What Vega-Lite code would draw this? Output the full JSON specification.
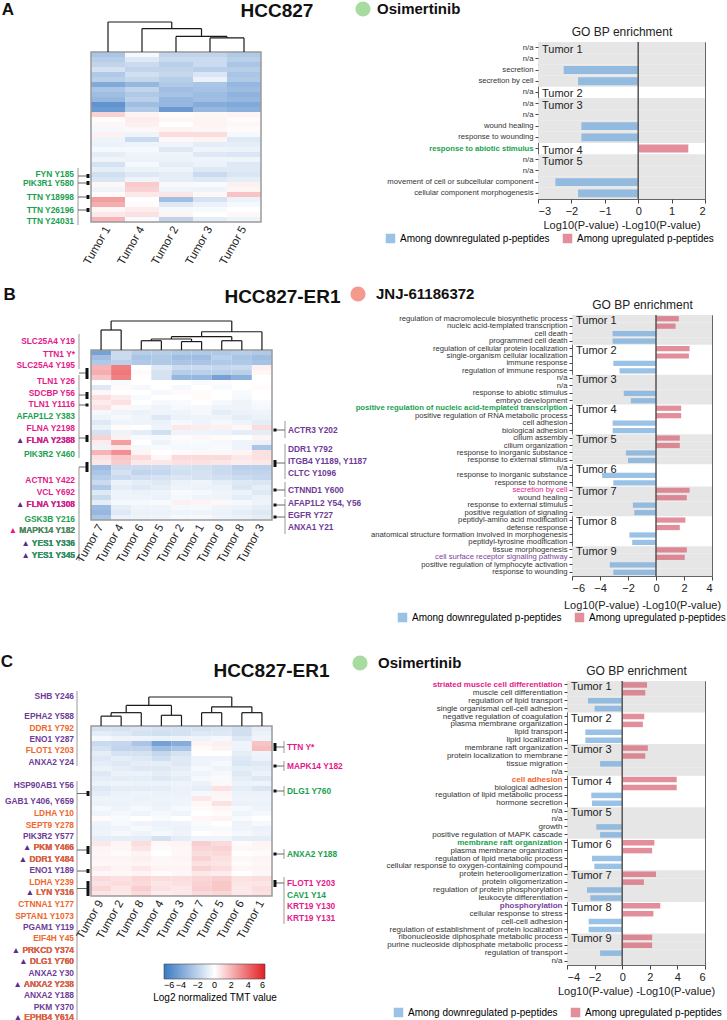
{
"$schema": "https://vega.github.io/schema/vega-lite/v6.json",
"padding": {"left": 0, "top": 0, "right": 0, "bottom": 0},
"background": "white",
"config": {
  "view": {"stroke": null},
  "font": "Liberation Sans",
  "axis": {"labelFont": "Liberation Sans", "titleFont": "Liberation Sans", "labelColor": "#222", "titleColor": "#222"},
  "legend": {"labelFont": "Liberation Sans", "titleFont": "Liberation Sans"},
  "title": {"font": "Liberation Sans", "color": "#111"}
},
"datasets": {
  "hmA": [
    {"r":0,"Tumor 1":-2.6,"Tumor 4":-0.3,"Tumor 2":-1.9,"Tumor 3":-1.9,"Tumor 5":-2.4},
    {"r":1,"Tumor 1":-2.2,"Tumor 4":-1.0,"Tumor 2":-1.6,"Tumor 3":-1.6,"Tumor 5":-2.1},
    {"r":2,"Tumor 1":-1.9,"Tumor 4":-1.6,"Tumor 2":-2.1,"Tumor 3":-1.6,"Tumor 5":-2.6},
    {"r":3,"Tumor 1":-1.3,"Tumor 4":-1.9,"Tumor 2":-1.9,"Tumor 3":-2.1,"Tumor 5":-2.2},
    {"r":4,"Tumor 1":-2.4,"Tumor 4":-1.4,"Tumor 2":-1.8,"Tumor 3":-1.1,"Tumor 5":-2.6},
    {"r":5,"Tumor 1":-2.1,"Tumor 4":-1.8,"Tumor 2":-2.2,"Tumor 3":-0.6,"Tumor 5":-2.4},
    {"r":6,"Tumor 1":-3.8,"Tumor 4":-3.2,"Tumor 2":-2.4,"Tumor 3":-2.6,"Tumor 5":-3.2},
    {"r":7,"Tumor 1":-2.6,"Tumor 4":-1.9,"Tumor 2":-2.9,"Tumor 3":-2.7,"Tumor 5":-3.0},
    {"r":8,"Tumor 1":-2.9,"Tumor 4":-2.4,"Tumor 2":-2.7,"Tumor 3":-3.0,"Tumor 5":-3.4},
    {"r":9,"Tumor 1":-3.2,"Tumor 4":-2.1,"Tumor 2":-3.2,"Tumor 3":-2.9,"Tumor 5":-3.2},
    {"r":10,"Tumor 1":-4.8,"Tumor 4":-2.9,"Tumor 2":-3.2,"Tumor 3":-3.7,"Tumor 5":-3.8},
    {"r":11,"Tumor 1":-4.5,"Tumor 4":-2.4,"Tumor 2":-4.5,"Tumor 3":-3.2,"Tumor 5":-3.5},
    {"r":12,"Tumor 1":1.2,"Tumor 4":0.3,"Tumor 2":0.1,"Tumor 3":0.2,"Tumor 5":0.3},
    {"r":13,"Tumor 1":0.1,"Tumor 4":0.5,"Tumor 2":0.2,"Tumor 3":0.3,"Tumor 5":0.1},
    {"r":14,"Tumor 1":0.2,"Tumor 4":0.4,"Tumor 2":0.0,"Tumor 3":0.3,"Tumor 5":0.2},
    {"r":15,"Tumor 1":-0.3,"Tumor 4":0.2,"Tumor 2":0.3,"Tumor 3":0.2,"Tumor 5":0.1},
    {"r":16,"Tumor 1":0.4,"Tumor 4":-0.5,"Tumor 2":0.9,"Tumor 3":0.9,"Tumor 5":-0.3},
    {"r":17,"Tumor 1":-0.5,"Tumor 4":-1.6,"Tumor 2":0.2,"Tumor 3":0.3,"Tumor 5":-1.0},
    {"r":18,"Tumor 1":-0.6,"Tumor 4":-0.5,"Tumor 2":-0.5,"Tumor 3":-0.8,"Tumor 5":-0.8},
    {"r":19,"Tumor 1":-0.3,"Tumor 4":-0.3,"Tumor 2":-1.0,"Tumor 3":-0.5,"Tumor 5":-0.6},
    {"r":20,"Tumor 1":-0.8,"Tumor 4":-0.5,"Tumor 2":-0.5,"Tumor 3":-1.0,"Tumor 5":-1.1},
    {"r":21,"Tumor 1":-0.5,"Tumor 4":-0.6,"Tumor 2":-0.6,"Tumor 3":-0.5,"Tumor 5":-0.5},
    {"r":22,"Tumor 1":-1.3,"Tumor 4":-0.3,"Tumor 2":-0.8,"Tumor 3":-0.6,"Tumor 5":-1.0},
    {"r":23,"Tumor 1":-0.8,"Tumor 4":-0.6,"Tumor 2":-0.5,"Tumor 3":-1.0,"Tumor 5":-1.0},
    {"r":24,"Tumor 1":-1.4,"Tumor 4":-1.0,"Tumor 2":-0.8,"Tumor 3":-1.6,"Tumor 5":-1.1},
    {"r":25,"Tumor 1":-1.1,"Tumor 4":-0.5,"Tumor 2":-0.8,"Tumor 3":-1.0,"Tumor 5":-0.8},
    {"r":26,"Tumor 1":0.2,"Tumor 4":1.4,"Tumor 2":-0.3,"Tumor 3":-0.2,"Tumor 5":0.4},
    {"r":27,"Tumor 1":-0.5,"Tumor 4":1.2,"Tumor 2":-0.5,"Tumor 3":-0.5,"Tumor 5":0.3},
    {"r":28,"Tumor 1":0.1,"Tumor 4":0.6,"Tumor 2":0.7,"Tumor 3":0.2,"Tumor 5":1.6},
    {"r":29,"Tumor 1":2.6,"Tumor 4":0.0,"Tumor 2":-2.9,"Tumor 3":-1.3,"Tumor 5":-0.6},
    {"r":30,"Tumor 1":2.2,"Tumor 4":0.1,"Tumor 2":-1.0,"Tumor 3":-0.6,"Tumor 5":-0.3},
    {"r":31,"Tumor 1":0.2,"Tumor 4":0.5,"Tumor 2":-0.3,"Tumor 3":-0.2,"Tumor 5":0.0},
    {"r":32,"Tumor 1":0.6,"Tumor 4":0.8,"Tumor 2":0.3,"Tumor 3":0.0,"Tumor 5":0.2},
    {"r":33,"Tumor 1":2.0,"Tumor 4":-0.2,"Tumor 2":-1.9,"Tumor 3":-0.8,"Tumor 5":-0.5}
  ],
  "hmB": [
    {"r":0,"Tumor 7":-4.2,"Tumor 4":-1.6,"Tumor 6":-2.2,"Tumor 5":-2.2,"Tumor 2":-2.4,"Tumor 1":-2.4,"Tumor 9":-2.4,"Tumor 8":-2.2,"Tumor 3":-2.4},
    {"r":1,"Tumor 7":-2.9,"Tumor 4":-1.6,"Tumor 6":-2.6,"Tumor 5":-2.4,"Tumor 2":-2.9,"Tumor 1":-2.9,"Tumor 9":-2.1,"Tumor 8":-2.6,"Tumor 3":-2.9},
    {"r":2,"Tumor 7":-2.4,"Tumor 4":-2.1,"Tumor 6":-2.4,"Tumor 5":-2.4,"Tumor 2":-2.6,"Tumor 1":-2.6,"Tumor 9":-2.4,"Tumor 8":-2.4,"Tumor 3":-2.7},
    {"r":3,"Tumor 7":2.0,"Tumor 4":3.5,"Tumor 6":0.0,"Tumor 5":-1.0,"Tumor 2":-1.6,"Tumor 1":-1.6,"Tumor 9":-1.8,"Tumor 8":-1.6,"Tumor 3":0.4},
    {"r":4,"Tumor 7":2.2,"Tumor 4":3.6,"Tumor 6":0.1,"Tumor 5":-1.3,"Tumor 2":-2.2,"Tumor 1":-2.1,"Tumor 9":-2.1,"Tumor 8":-2.1,"Tumor 3":0.2},
    {"r":5,"Tumor 7":1.6,"Tumor 4":3.4,"Tumor 6":0.0,"Tumor 5":-1.3,"Tumor 2":-3.2,"Tumor 1":-3.2,"Tumor 9":-4.2,"Tumor 8":-3.5,"Tumor 3":0.0},
    {"r":6,"Tumor 7":0.0,"Tumor 4":-0.2,"Tumor 6":0.0,"Tumor 5":0.0,"Tumor 2":0.0,"Tumor 1":-0.2,"Tumor 9":0.1,"Tumor 8":0.0,"Tumor 3":0.0},
    {"r":7,"Tumor 7":-1.0,"Tumor 4":0.1,"Tumor 6":-0.3,"Tumor 5":0.0,"Tumor 2":-0.3,"Tumor 1":0.0,"Tumor 9":-0.2,"Tumor 8":0.0,"Tumor 3":0.1},
    {"r":8,"Tumor 7":0.2,"Tumor 4":0.0,"Tumor 6":0.0,"Tumor 5":-0.3,"Tumor 2":0.1,"Tumor 1":0.1,"Tumor 9":0.0,"Tumor 8":-0.2,"Tumor 3":0.0},
    {"r":9,"Tumor 7":0.9,"Tumor 4":0.5,"Tumor 6":-0.2,"Tumor 5":0.0,"Tumor 2":0.0,"Tumor 1":0.1,"Tumor 9":0.0,"Tumor 8":-0.3,"Tumor 3":0.0},
    {"r":10,"Tumor 7":0.5,"Tumor 4":0.8,"Tumor 6":0.0,"Tumor 5":-0.3,"Tumor 2":-0.2,"Tumor 1":0.0,"Tumor 9":-0.3,"Tumor 8":-0.5,"Tumor 3":-0.2},
    {"r":11,"Tumor 7":0.8,"Tumor 4":0.2,"Tumor 6":-0.3,"Tumor 5":-0.5,"Tumor 2":-0.3,"Tumor 1":-0.3,"Tumor 9":-0.5,"Tumor 8":-0.5,"Tumor 3":-0.3},
    {"r":12,"Tumor 7":-0.3,"Tumor 4":-0.5,"Tumor 6":-0.6,"Tumor 5":-0.5,"Tumor 2":-0.5,"Tumor 1":-0.3,"Tumor 9":-0.8,"Tumor 8":-0.6,"Tumor 3":-0.5},
    {"r":13,"Tumor 7":-0.5,"Tumor 4":-0.3,"Tumor 6":-0.5,"Tumor 5":-1.0,"Tumor 2":-0.6,"Tumor 1":-0.5,"Tumor 9":-0.5,"Tumor 8":-0.8,"Tumor 3":-0.6},
    {"r":14,"Tumor 7":-1.0,"Tumor 4":-0.5,"Tumor 6":-0.5,"Tumor 5":-0.6,"Tumor 2":-0.3,"Tumor 1":-0.5,"Tumor 9":-0.3,"Tumor 8":-0.5,"Tumor 3":-0.8},
    {"r":15,"Tumor 7":-0.6,"Tumor 4":0.1,"Tumor 6":0.0,"Tumor 5":-0.5,"Tumor 2":0.6,"Tumor 1":0.5,"Tumor 9":0.4,"Tumor 8":0.2,"Tumor 3":0.9},
    {"r":16,"Tumor 7":-1.3,"Tumor 4":-0.5,"Tumor 6":-0.8,"Tumor 5":-1.4,"Tumor 2":-0.5,"Tumor 1":-0.5,"Tumor 9":-0.6,"Tumor 8":-0.8,"Tumor 3":-0.8},
    {"r":17,"Tumor 7":1.2,"Tumor 4":0.4,"Tumor 6":-0.2,"Tumor 5":-0.3,"Tumor 2":0.1,"Tumor 1":0.2,"Tumor 9":0.1,"Tumor 8":0.0,"Tumor 3":0.3},
    {"r":18,"Tumor 7":0.5,"Tumor 4":2.6,"Tumor 6":0.0,"Tumor 5":-0.5,"Tumor 2":-0.2,"Tumor 1":-0.2,"Tumor 9":-0.3,"Tumor 8":-0.5,"Tumor 3":-0.6},
    {"r":19,"Tumor 7":-0.5,"Tumor 4":0.6,"Tumor 6":-0.3,"Tumor 5":-0.2,"Tumor 2":-0.3,"Tumor 1":-0.3,"Tumor 9":-0.2,"Tumor 8":-0.5,"Tumor 3":-2.6},
    {"r":20,"Tumor 7":2.0,"Tumor 4":3.0,"Tumor 6":0.3,"Tumor 5":0.0,"Tumor 2":0.1,"Tumor 1":0.2,"Tumor 9":0.2,"Tumor 8":0.3,"Tumor 3":0.8},
    {"r":21,"Tumor 7":0.8,"Tumor 4":1.5,"Tumor 6":1.0,"Tumor 5":0.2,"Tumor 2":1.0,"Tumor 1":1.0,"Tumor 9":1.0,"Tumor 8":0.6,"Tumor 3":0.8},
    {"r":22,"Tumor 7":0.6,"Tumor 4":1.4,"Tumor 6":0.6,"Tumor 5":0.6,"Tumor 2":0.8,"Tumor 1":0.8,"Tumor 9":0.7,"Tumor 8":0.5,"Tumor 3":0.6},
    {"r":23,"Tumor 7":-3.0,"Tumor 4":-1.6,"Tumor 6":-1.6,"Tumor 5":-1.6,"Tumor 2":-1.3,"Tumor 1":-1.4,"Tumor 9":-1.6,"Tumor 8":-2.1,"Tumor 3":-2.1},
    {"r":24,"Tumor 7":-2.6,"Tumor 4":-1.3,"Tumor 6":-1.9,"Tumor 5":-1.8,"Tumor 2":-1.4,"Tumor 1":-1.3,"Tumor 9":-1.6,"Tumor 8":-1.9,"Tumor 3":-1.9},
    {"r":25,"Tumor 7":-2.2,"Tumor 4":-1.6,"Tumor 6":-1.4,"Tumor 5":-1.3,"Tumor 2":-1.1,"Tumor 1":-1.3,"Tumor 9":-1.4,"Tumor 8":-1.6,"Tumor 3":-1.8},
    {"r":26,"Tumor 7":-1.6,"Tumor 4":-0.6,"Tumor 6":-0.8,"Tumor 5":-1.0,"Tumor 2":-0.6,"Tumor 1":-0.5,"Tumor 9":-0.8,"Tumor 8":-1.0,"Tumor 3":-1.1},
    {"r":27,"Tumor 7":-2.4,"Tumor 4":-0.8,"Tumor 6":-1.0,"Tumor 5":-0.8,"Tumor 2":-0.5,"Tumor 1":-0.6,"Tumor 9":-0.6,"Tumor 8":-1.1,"Tumor 3":-0.8},
    {"r":28,"Tumor 7":-1.0,"Tumor 4":-0.5,"Tumor 6":-0.6,"Tumor 5":-0.5,"Tumor 2":-0.2,"Tumor 1":-0.3,"Tumor 9":-0.5,"Tumor 8":-0.6,"Tumor 3":-1.0},
    {"r":29,"Tumor 7":-1.6,"Tumor 4":-0.5,"Tumor 6":-0.5,"Tumor 5":-0.6,"Tumor 2":-0.3,"Tumor 1":-0.5,"Tumor 9":-0.5,"Tumor 8":-0.8,"Tumor 3":-0.6},
    {"r":30,"Tumor 7":-0.8,"Tumor 4":-0.3,"Tumor 6":-0.3,"Tumor 5":-0.2,"Tumor 2":0.4,"Tumor 1":0.3,"Tumor 9":0.2,"Tumor 8":-0.3,"Tumor 3":-0.5},
    {"r":31,"Tumor 7":-3.0,"Tumor 4":-0.8,"Tumor 6":-0.5,"Tumor 5":-0.5,"Tumor 2":-0.3,"Tumor 1":-0.3,"Tumor 9":-0.5,"Tumor 8":-0.6,"Tumor 3":-0.8},
    {"r":32,"Tumor 7":-3.2,"Tumor 4":-1.0,"Tumor 6":-0.6,"Tumor 5":-0.6,"Tumor 2":-0.5,"Tumor 1":-0.5,"Tumor 9":-0.6,"Tumor 8":-0.8,"Tumor 3":-1.0},
    {"r":33,"Tumor 7":-2.6,"Tumor 4":-0.6,"Tumor 6":-0.5,"Tumor 5":-0.5,"Tumor 2":-0.3,"Tumor 1":-0.3,"Tumor 9":-0.5,"Tumor 8":-0.6,"Tumor 3":-0.8}
  ],
  "hmC": [
    {"r":0,"Tumor 9":-1.3,"Tumor 2":-1.3,"Tumor 8":-1.1,"Tumor 4":-1.3,"Tumor 3":-1.3,"Tumor 7":-1.3,"Tumor 5":-1.1,"Tumor 6":-1.4,"Tumor 1":-0.8},
    {"r":1,"Tumor 9":-0.8,"Tumor 2":-1.0,"Tumor 8":-1.3,"Tumor 4":-1.4,"Tumor 3":-1.3,"Tumor 7":-1.0,"Tumor 5":-1.0,"Tumor 6":-1.4,"Tumor 1":-0.6},
    {"r":2,"Tumor 9":-0.3,"Tumor 2":-0.5,"Tumor 8":-0.5,"Tumor 4":-0.6,"Tumor 3":-0.5,"Tumor 7":-0.5,"Tumor 5":-0.3,"Tumor 6":-1.0,"Tumor 1":-0.5},
    {"r":3,"Tumor 9":-1.6,"Tumor 2":-1.8,"Tumor 8":-2.6,"Tumor 4":-4.2,"Tumor 3":-3.7,"Tumor 7":0.3,"Tumor 5":0.4,"Tumor 6":-0.5,"Tumor 1":1.6},
    {"r":4,"Tumor 9":-1.3,"Tumor 2":-1.9,"Tumor 8":-1.9,"Tumor 4":-2.9,"Tumor 3":-2.6,"Tumor 7":0.1,"Tumor 5":0.3,"Tumor 6":-0.5,"Tumor 1":1.8},
    {"r":5,"Tumor 9":-0.8,"Tumor 2":-1.3,"Tumor 8":-1.3,"Tumor 4":-1.8,"Tumor 3":-1.3,"Tumor 7":0.0,"Tumor 5":0.0,"Tumor 6":-0.8,"Tumor 1":-0.5},
    {"r":6,"Tumor 9":-1.0,"Tumor 2":-0.8,"Tumor 8":-1.0,"Tumor 4":-1.4,"Tumor 3":-1.0,"Tumor 7":-0.5,"Tumor 5":-0.5,"Tumor 6":-1.0,"Tumor 1":-0.6},
    {"r":7,"Tumor 9":-0.8,"Tumor 2":-1.0,"Tumor 8":-0.8,"Tumor 4":-0.8,"Tumor 3":-1.0,"Tumor 7":-0.5,"Tumor 5":-0.3,"Tumor 6":-1.1,"Tumor 1":-1.0},
    {"r":8,"Tumor 9":-0.6,"Tumor 2":-0.8,"Tumor 8":-1.0,"Tumor 4":-1.0,"Tumor 3":-0.8,"Tumor 7":-0.3,"Tumor 5":-0.5,"Tumor 6":-0.8,"Tumor 1":-0.8},
    {"r":9,"Tumor 9":-1.0,"Tumor 2":-0.6,"Tumor 8":-0.6,"Tumor 4":-0.8,"Tumor 3":-0.6,"Tumor 7":-0.5,"Tumor 5":-0.3,"Tumor 6":-1.0,"Tumor 1":-0.6},
    {"r":10,"Tumor 9":-0.8,"Tumor 2":-0.8,"Tumor 8":-0.8,"Tumor 4":-1.0,"Tumor 3":-0.8,"Tumor 7":-0.3,"Tumor 5":-0.2,"Tumor 6":-0.8,"Tumor 1":-1.0},
    {"r":11,"Tumor 9":-0.6,"Tumor 2":-0.5,"Tumor 8":-0.6,"Tumor 4":-0.6,"Tumor 3":-0.5,"Tumor 7":-0.6,"Tumor 5":0.2,"Tumor 6":-0.6,"Tumor 1":-0.5},
    {"r":12,"Tumor 9":-1.0,"Tumor 2":-0.8,"Tumor 8":-0.8,"Tumor 4":-0.8,"Tumor 3":-0.6,"Tumor 7":-0.8,"Tumor 5":0.8,"Tumor 6":-0.8,"Tumor 1":-1.1},
    {"r":13,"Tumor 9":-0.8,"Tumor 2":-0.6,"Tumor 8":-0.5,"Tumor 4":-0.6,"Tumor 3":-0.6,"Tumor 7":-0.3,"Tumor 5":0.3,"Tumor 6":-0.6,"Tumor 1":-0.6},
    {"r":14,"Tumor 9":-0.5,"Tumor 2":-0.5,"Tumor 8":-0.6,"Tumor 4":-0.5,"Tumor 3":-0.5,"Tumor 7":0.6,"Tumor 5":0.2,"Tumor 6":-0.5,"Tumor 1":-0.5},
    {"r":15,"Tumor 9":-0.6,"Tumor 2":-0.6,"Tumor 8":-0.5,"Tumor 4":-0.6,"Tumor 3":-0.5,"Tumor 7":0.2,"Tumor 5":0.8,"Tumor 6":-0.6,"Tumor 1":-0.6},
    {"r":16,"Tumor 9":-0.3,"Tumor 2":-0.5,"Tumor 8":-0.3,"Tumor 4":-0.5,"Tumor 3":-0.3,"Tumor 7":0.1,"Tumor 5":0.2,"Tumor 6":-0.3,"Tumor 1":-0.5},
    {"r":17,"Tumor 9":-0.5,"Tumor 2":-0.3,"Tumor 8":-0.5,"Tumor 4":-0.3,"Tumor 3":-0.5,"Tumor 7":0.0,"Tumor 5":0.1,"Tumor 6":-0.5,"Tumor 1":-0.3},
    {"r":18,"Tumor 9":0.1,"Tumor 2":-0.2,"Tumor 8":0.0,"Tumor 4":-0.2,"Tumor 3":0.0,"Tumor 7":0.2,"Tumor 5":0.3,"Tumor 6":-0.2,"Tumor 1":0.0},
    {"r":19,"Tumor 9":-0.5,"Tumor 2":-0.3,"Tumor 8":-0.5,"Tumor 4":-0.6,"Tumor 3":-0.5,"Tumor 7":-0.2,"Tumor 5":0.0,"Tumor 6":-0.5,"Tumor 1":-0.3},
    {"r":20,"Tumor 9":-0.6,"Tumor 2":-0.5,"Tumor 8":-0.3,"Tumor 4":-0.5,"Tumor 3":-0.6,"Tumor 7":-0.3,"Tumor 5":-0.2,"Tumor 6":-0.5,"Tumor 1":-0.6},
    {"r":21,"Tumor 9":-0.5,"Tumor 2":-0.3,"Tumor 8":-0.5,"Tumor 4":-0.3,"Tumor 3":-0.5,"Tumor 7":0.0,"Tumor 5":0.1,"Tumor 6":-0.3,"Tumor 1":-0.5},
    {"r":22,"Tumor 9":-0.8,"Tumor 2":-0.8,"Tumor 8":-0.8,"Tumor 4":-1.3,"Tumor 3":-0.8,"Tumor 7":-0.5,"Tumor 5":-0.5,"Tumor 6":-0.8,"Tumor 1":-0.8},
    {"r":23,"Tumor 9":0.6,"Tumor 2":0.3,"Tumor 8":0.9,"Tumor 4":0.2,"Tumor 3":0.3,"Tumor 7":1.3,"Tumor 5":1.0,"Tumor 6":0.1,"Tumor 1":0.3},
    {"r":24,"Tumor 9":0.3,"Tumor 2":0.2,"Tumor 8":0.7,"Tumor 4":0.1,"Tumor 3":0.2,"Tumor 7":1.1,"Tumor 5":1.2,"Tumor 6":0.2,"Tumor 1":0.2},
    {"r":25,"Tumor 9":0.2,"Tumor 2":0.1,"Tumor 8":0.3,"Tumor 4":0.0,"Tumor 3":0.2,"Tumor 7":0.9,"Tumor 5":1.0,"Tumor 6":0.0,"Tumor 1":0.1},
    {"r":26,"Tumor 9":0.3,"Tumor 2":0.3,"Tumor 8":0.4,"Tumor 4":0.2,"Tumor 3":0.3,"Tumor 7":1.2,"Tumor 5":0.8,"Tumor 6":0.2,"Tumor 1":0.3},
    {"r":27,"Tumor 9":0.2,"Tumor 2":0.2,"Tumor 8":0.3,"Tumor 4":0.2,"Tumor 3":0.2,"Tumor 7":0.8,"Tumor 5":0.7,"Tumor 6":0.1,"Tumor 1":0.2},
    {"r":28,"Tumor 9":0.5,"Tumor 2":0.3,"Tumor 8":0.6,"Tumor 4":0.3,"Tumor 3":0.3,"Tumor 7":1.2,"Tumor 5":0.9,"Tumor 6":0.2,"Tumor 1":0.3},
    {"r":29,"Tumor 9":0.2,"Tumor 2":0.2,"Tumor 8":0.3,"Tumor 4":0.1,"Tumor 3":0.2,"Tumor 7":0.6,"Tumor 5":0.5,"Tumor 6":0.0,"Tumor 1":0.2},
    {"r":30,"Tumor 9":1.0,"Tumor 2":0.8,"Tumor 8":1.1,"Tumor 4":0.9,"Tumor 3":0.9,"Tumor 7":1.1,"Tumor 5":1.3,"Tumor 6":0.8,"Tumor 1":0.9},
    {"r":31,"Tumor 9":0.8,"Tumor 2":0.9,"Tumor 8":1.0,"Tumor 4":0.7,"Tumor 3":0.8,"Tumor 7":1.2,"Tumor 5":1.5,"Tumor 6":0.7,"Tumor 1":0.7},
    {"r":32,"Tumor 9":1.1,"Tumor 2":0.7,"Tumor 8":1.3,"Tumor 4":0.8,"Tumor 3":0.6,"Tumor 7":1.3,"Tumor 5":1.5,"Tumor 6":0.6,"Tumor 1":0.9},
    {"r":33,"Tumor 9":0.7,"Tumor 2":0.6,"Tumor 8":1.0,"Tumor 4":0.5,"Tumor 3":0.6,"Tumor 7":1.0,"Tumor 5":1.1,"Tumor 6":0.6,"Tumor 1":0.8}
  ],
  "dendA": [
    {"x":3.5,"xe":3.5,"h":0,"he":0.47},{"x":4.5,"xe":4.5,"h":0,"he":0.47},{"x":3.5,"xe":4.5,"h":0.47,"he":0.47},
    {"x":2.5,"xe":2.5,"h":0,"he":0.52},{"x":4.0,"xe":4.0,"h":0.47,"he":0.52},{"x":2.5,"xe":4.0,"h":0.52,"he":0.52},
    {"x":1.5,"xe":1.5,"h":0,"he":0.78},{"x":3.25,"xe":3.25,"h":0.52,"he":0.78},{"x":1.5,"xe":3.25,"h":0.78,"he":0.78},
    {"x":0.5,"xe":0.5,"h":0,"he":1},{"x":2.375,"xe":2.375,"h":0.78,"he":1},{"x":0.5,"xe":2.375,"h":1,"he":1}
  ],
  "dendB": [
    {"x":0.5,"xe":0.5,"h":0,"he":0.69},{"x":1.5,"xe":1.5,"h":0,"he":0.69},{"x":0.5,"xe":1.5,"h":0.69,"he":0.69},
    {"x":2.5,"xe":2.5,"h":0,"he":0.32},{"x":3.5,"xe":3.5,"h":0,"he":0.32},{"x":2.5,"xe":3.5,"h":0.32,"he":0.32},
    {"x":4.5,"xe":4.5,"h":0,"he":0.29},{"x":5.5,"xe":5.5,"h":0,"he":0.29},{"x":4.5,"xe":5.5,"h":0.29,"he":0.29},
    {"x":3.0,"xe":3.0,"h":0.32,"he":0.38},{"x":5.0,"xe":5.0,"h":0.29,"he":0.38},{"x":3.0,"xe":5.0,"h":0.38,"he":0.38},
    {"x":6.5,"xe":6.5,"h":0,"he":0.32},{"x":7.5,"xe":7.5,"h":0,"he":0.32},{"x":6.5,"xe":7.5,"h":0.32,"he":0.32},
    {"x":4.0,"xe":4.0,"h":0.38,"he":0.46},{"x":7.0,"xe":7.0,"h":0.32,"he":0.46},{"x":4.0,"xe":7.0,"h":0.46,"he":0.46},
    {"x":5.5,"xe":5.5,"h":0.46,"he":0.63},{"x":8.5,"xe":8.5,"h":0,"he":0.63},{"x":5.5,"xe":8.5,"h":0.63,"he":0.63},
    {"x":1.0,"xe":1.0,"h":0.69,"he":1},{"x":7.0,"xe":7.0,"h":0.63,"he":1},{"x":1.0,"xe":7.0,"h":1,"he":1}
  ],
  "dendC": [
    {"x":0.5,"xe":0.5,"h":0,"he":0.34},{"x":1.5,"xe":1.5,"h":0,"he":0.34},{"x":0.5,"xe":1.5,"h":0.34,"he":0.34},
    {"x":1.0,"xe":1.0,"h":0.34,"he":0.46},{"x":2.5,"xe":2.5,"h":0,"he":0.46},{"x":1.0,"xe":2.5,"h":0.46,"he":0.46},
    {"x":3.5,"xe":3.5,"h":0,"he":0.37},{"x":4.5,"xe":4.5,"h":0,"he":0.37},{"x":3.5,"xe":4.5,"h":0.37,"he":0.37},
    {"x":1.75,"xe":1.75,"h":0.46,"he":0.71},{"x":4.0,"xe":4.0,"h":0.37,"he":0.71},{"x":1.75,"xe":4.0,"h":0.71,"he":0.71},
    {"x":5.5,"xe":5.5,"h":0,"he":0.46},{"x":6.5,"xe":6.5,"h":0,"he":0.46},{"x":5.5,"xe":6.5,"h":0.46,"he":0.46},
    {"x":7.5,"xe":7.5,"h":0,"he":0.46},{"x":8.5,"xe":8.5,"h":0,"he":0.46},{"x":7.5,"xe":8.5,"h":0.46,"he":0.46},
    {"x":6.0,"xe":6.0,"h":0.46,"he":0.66},{"x":8.0,"xe":8.0,"h":0.46,"he":0.66},{"x":6.0,"xe":8.0,"h":0.66,"he":0.66},
    {"x":2.875,"xe":2.875,"h":0.71,"he":1},{"x":7.0,"xe":7.0,"h":0.66,"he":1},{"x":2.875,"xe":7.0,"h":1,"he":1}
  ],
  "brA": [
    {"s":"L","k":"v","y1":23.2,"y2":34.6},
    {"s":"L","k":"h","y1":24.8},{"s":"L","k":"h","y1":26.2},{"s":"L","k":"h","y1":29},{"s":"L","k":"h","y1":31.6},
    {"s":"L","k":"b","y1":24.4,"y2":25.2},{"s":"L","k":"b","y1":25.8,"y2":26.6},{"s":"L","k":"b","y1":28.6,"y2":29.4},{"s":"L","k":"b","y1":31.2,"y2":32}
  ],
  "brB": [
    {"s":"L","k":"v","y1":-3.2,"y2":3.8},{"s":"L","k":"v","y1":5,"y2":21.6},{"s":"L","k":"v","y1":23.4,"y2":42.2},
    {"s":"L","k":"h","y1":4.6},{"s":"L","k":"h","y1":9},{"s":"L","k":"h","y1":11},{"s":"L","k":"h","y1":17.6},{"s":"L","k":"h","y1":23.4},
    {"s":"L","k":"b","y1":3.6,"y2":5.8},{"s":"L","k":"b","y1":8.4,"y2":9.8},{"s":"L","k":"b","y1":10.7,"y2":11.3},{"s":"L","k":"b","y1":17,"y2":18.4},{"s":"L","k":"b","y1":22.4,"y2":24.4},
    {"s":"R","k":"v","y1":14.2,"y2":17.6},{"s":"R","k":"v","y1":18.8,"y2":25.8},{"s":"R","k":"v","y1":26.4,"y2":29.4},{"s":"R","k":"v","y1":29.8,"y2":36.8},
    {"s":"R","k":"h","y1":16},{"s":"R","k":"h","y1":22.6},{"s":"R","k":"h","y1":28},{"s":"R","k":"h","y1":31},{"s":"R","k":"h","y1":33.4},
    {"s":"R","k":"b","y1":15.7,"y2":16.3},{"s":"R","k":"b","y1":22,"y2":23.4},{"s":"R","k":"b","y1":27.7,"y2":28.3},{"s":"R","k":"b","y1":30.7,"y2":31.3},{"s":"R","k":"b","y1":33.1,"y2":33.7}
  ],
  "brC": [
    {"s":"L","k":"v","y1":-7,"y2":8},{"s":"L","k":"v","y1":11,"y2":59.5},
    {"s":"L","k":"h","y1":13.5},{"s":"L","k":"h","y1":24.8},{"s":"L","k":"h","y1":29},{"s":"L","k":"h","y1":32.5},
    {"s":"L","k":"b","y1":13,"y2":14},{"s":"L","k":"b","y1":24,"y2":25.6},{"s":"L","k":"b","y1":28.6,"y2":29.4},{"s":"L","k":"b","y1":31,"y2":34},
    {"s":"R","k":"v","y1":3,"y2":5.4},{"s":"R","k":"v","y1":7,"y2":9},{"s":"R","k":"v","y1":12,"y2":14},{"s":"R","k":"v","y1":24.6,"y2":26.6},{"s":"R","k":"v","y1":30.2,"y2":39.6},
    {"s":"R","k":"h","y1":4.2},{"s":"R","k":"h","y1":8},{"s":"R","k":"h","y1":13},{"s":"R","k":"h","y1":25.6},{"s":"R","k":"h","y1":31.4},
    {"s":"R","k":"b","y1":3.4,"y2":5},{"s":"R","k":"b","y1":7.7,"y2":8.3},{"s":"R","k":"b","y1":12.7,"y2":13.3},{"s":"R","k":"b","y1":25.3,"y2":25.9},{"s":"R","k":"b","y1":30.8,"y2":32.2}
  ],
  "lblA": [
    {"g":"FYN Y185","pos":24.4,"c":"g"},
    {"g":"PIK3R1 Y580","pos":26.2,"c":"g"},
    {"g":"TTN Y18998","pos":29,"c":"g"},
    {"g":"TTN Y26196","pos":31.6,"c":"g"},
    {"g":"TTN Y24031","pos":33.8,"c":"g"}
  ],
  "lblBL": [
    {"g":"SLC25A4 Y19","pos":-1.8,"c":"m"},
    {"g":"TTN1 Y*","pos":0.7,"c":"m"},
    {"g":"SLC25A4 Y195","pos":3,"c":"m"},
    {"g":"TLN1 Y26","pos":6.2,"c":"m"},
    {"g":"SDCBP Y56","pos":8.6,"c":"m"},
    {"g":"TLN1 Y1116","pos":10.8,"c":"m"},
    {"g":"AFAP1L2 Y383","pos":13.2,"c":"g"},
    {"g":"FLNA Y2198","pos":15.6,"c":"m"},
    {"g":"FLNA Y2388","pos":18,"c":"m","tri":"p"},
    {"g":"PIK3R2 Y460","pos":20.8,"c":"g"},
    {"g":"ACTN1 Y422","pos":26,"c":"m"},
    {"g":"VCL Y692","pos":28.4,"c":"m"},
    {"g":"FLNA Y1308","pos":30.8,"c":"m","tri":"p"},
    {"g":"GSK3B Y216","pos":33.8,"c":"g"},
    {"g":"MAPK14 Y182","pos":36,"c":"g","tri":"m"},
    {"g":"YES1 Y336","pos":38.6,"c":"g","tri":"p"},
    {"g":"YES1 Y345","pos":41,"c":"g","tri":"p"}
  ],
  "lblBR": [
    {"g":"ACTR3 Y202","pos":16,"c":"p"},
    {"g":"DDR1 Y792","pos":19.8,"c":"p"},
    {"g":"ITGB4 Y1189, Y1187","pos":22.2,"c":"p"},
    {"g":"CLTC Y1096","pos":24.6,"c":"p"},
    {"g":"CTNND1 Y600","pos":28,"c":"p"},
    {"g":"AFAP1L2 Y54, Y56","pos":30.6,"c":"p"},
    {"g":"EGFR Y727","pos":33,"c":"p"},
    {"g":"ANXA1 Y21","pos":35.4,"c":"p"}
  ],
  "lblCL": [
    {"g":"SHB Y246","pos":-6,"c":"p"},
    {"g":"EPHA2 Y588","pos":-2,"c":"p"},
    {"g":"DDR1 Y792","pos":0.4,"c":"o"},
    {"g":"ENO1 Y287","pos":2.6,"c":"p"},
    {"g":"FLOT1 Y203","pos":4.8,"c":"o"},
    {"g":"ANXA2 Y24","pos":7.2,"c":"p"},
    {"g":"HSP90AB1 Y56","pos":11.8,"c":"p"},
    {"g":"GAB1 Y406, Y659","pos":15,"c":"p"},
    {"g":"LDHA Y10","pos":17.4,"c":"o"},
    {"g":"SEPT9 Y278","pos":19.8,"c":"o"},
    {"g":"PIK3R2 Y577","pos":22,"c":"p"},
    {"g":"PKM Y466","pos":24.2,"c":"o","tri":"p"},
    {"g":"DDR1 Y484","pos":26.6,"c":"o","tri":"p"},
    {"g":"ENO1 Y189","pos":28.8,"c":"p"},
    {"g":"LDHA Y239","pos":31.2,"c":"o"},
    {"g":"LYN Y316","pos":33.2,"c":"o","tri":"p"},
    {"g":"CTNNA1 Y177","pos":35.6,"c":"o"},
    {"g":"SPTAN1 Y1073","pos":38,"c":"o"},
    {"g":"PGAM1 Y119","pos":40.2,"c":"p"},
    {"g":"EIF4H  Y45","pos":42.4,"c":"o"},
    {"g":"PRKCD Y374","pos":44.8,"c":"o","tri":"p"},
    {"g":"DLG1 Y760","pos":47,"c":"o","tri":"p"},
    {"g":"ANXA2 Y30","pos":49.4,"c":"p"},
    {"g":"ANXA2 Y238","pos":51.6,"c":"o","tri":"p"},
    {"g":"ANXA2 Y188","pos":53.8,"c":"p"},
    {"g":"PKM  Y370","pos":56.1,"c":"p"},
    {"g":"EPHB4 Y614","pos":58.2,"c":"o","tri":"p"}
  ],
  "lblCR": [
    {"g":"TTN Y*","pos":4.2,"c":"m"},
    {"g":"MAPK14 Y182","pos":8,"c":"m"},
    {"g":"DLG1 Y760","pos":13,"c":"g"},
    {"g":"ANXA2 Y188","pos":25.6,"c":"g"},
    {"g":"FLOT1 Y203","pos":31.4,"c":"m"},
    {"g":"CAV1 Y14","pos":33.8,"c":"g"},
    {"g":"KRT19 Y130","pos":36,"c":"m"},
    {"g":"KRT19 Y131","pos":38.4,"c":"m"}
  ],
  "goA": [
    {"id":"00 n/a","t":1,"tl":"Tumor 1"},
    {"id":"01 n/a","t":1},
    {"id":"02 secretion","t":1,"v":-2.23,"dir":"down"},
    {"id":"03 secretion by cell","t":1,"v":-1.8,"dir":"down"},
    {"id":"04 n/a","t":2,"tl":"Tumor 2"},
    {"id":"05 n/a","t":2},
    {"id":"06 n/a","t":2},
    {"id":"07 n/a","t":2},
    {"id":"08 n/a","t":3,"tl":"Tumor 3"},
    {"id":"09 n/a","t":3},
    {"id":"10 wound healing","t":3,"v":-1.7,"dir":"down"},
    {"id":"11 response to wounding","t":3,"v":-1.7,"dir":"down"},
    {"id":"12 response to abiotic stimulus","t":4,"tl":"Tumor 4","v":1.5,"dir":"up"},
    {"id":"13 n/a","t":4},
    {"id":"14 n/a","t":4},
    {"id":"15 n/a","t":4},
    {"id":"16 n/a","t":5,"tl":"Tumor 5"},
    {"id":"17 n/a","t":5},
    {"id":"18 movement of cell or subcellular component","t":5,"v":-2.48,"dir":"down"},
    {"id":"19 cellular component morphogenesis","t":5,"v":-1.8,"dir":"down"}
  ],
  "goB": [
    {"id":"00 regulation of macromolecule biosynthetic process","t":1,"tl":"Tumor 1","v":1.63,"dir":"up"},
    {"id":"01 nucleic acid-templated transcription","t":1,"v":1.4,"dir":"up"},
    {"id":"02 cell death","t":1,"v":-3.1,"dir":"down"},
    {"id":"03 programmed cell death","t":1,"v":-3.1,"dir":"down"},
    {"id":"04 regulation of cellular protein localization","t":2,"tl":"Tumor 2","v":2.4,"dir":"up"},
    {"id":"05 single-organism cellular localization","t":2,"v":2.35,"dir":"up"},
    {"id":"06 immune response","t":2,"v":-3.05,"dir":"down"},
    {"id":"07 regulation of immune response","t":2,"v":-2.6,"dir":"down"},
    {"id":"08 n/a","t":3,"tl":"Tumor 3"},
    {"id":"09 n/a","t":3},
    {"id":"10 response to abiotic stimulus","t":3,"v":-2.3,"dir":"down"},
    {"id":"11 embryo development","t":3,"v":-1.8,"dir":"down"},
    {"id":"12 positive regulation of nucleic acid-templated transcription","t":4,"tl":"Tumor 4","v":1.8,"dir":"up"},
    {"id":"13 positive regulation of RNA metabolic process","t":4,"v":1.8,"dir":"up"},
    {"id":"14 cell adhesion","t":4,"v":-3.1,"dir":"down"},
    {"id":"15 biological adhesion","t":4,"v":-3.1,"dir":"down"},
    {"id":"16 cilium assembly","t":5,"tl":"Tumor 5","v":1.7,"dir":"up"},
    {"id":"17 cilium organization","t":5,"v":1.7,"dir":"up"},
    {"id":"18 response to inorganic substance","t":5,"v":-2.15,"dir":"down"},
    {"id":"19 response to external stimulus","t":5,"v":-2.0,"dir":"down"},
    {"id":"20 n/a","t":6,"tl":"Tumor 6"},
    {"id":"21 n/a","t":6},
    {"id":"22 response to inorganic substance","t":6,"v":-3.85,"dir":"down"},
    {"id":"23 response to hormone","t":6,"v":-3.05,"dir":"down"},
    {"id":"24 secretion by cell","t":7,"tl":"Tumor 7","v":2.4,"dir":"up"},
    {"id":"25 wound healing","t":7,"v":2.2,"dir":"up"},
    {"id":"26 response to external stimulus","t":7,"v":-1.65,"dir":"down"},
    {"id":"27 positive regulation of signaling","t":7,"v":-1.55,"dir":"down"},
    {"id":"28 peptidyl-amino acid modification","t":8,"tl":"Tumor 8","v":2.1,"dir":"up"},
    {"id":"29 defense response","t":8,"v":1.7,"dir":"up"},
    {"id":"30 anatomical structure formation involved in morphogenesis","t":8,"v":-1.9,"dir":"down"},
    {"id":"31 peptidyl-tyrosine modification","t":8,"v":-1.7,"dir":"down"},
    {"id":"32 tissue morphogenesis","t":9,"tl":"Tumor 9","v":2.2,"dir":"up"},
    {"id":"33 cell surface receptor signaling pathway","t":9,"v":2.05,"dir":"up"},
    {"id":"34 positive regulation of lymphocyte activation","t":9,"v":-3.3,"dir":"down"},
    {"id":"35 response to wounding","t":9,"v":-3.05,"dir":"down"}
  ],
  "goC": [
    {"id":"00 striated muscle cell differentiation","t":1,"tl":"Tumor 1","v":1.8,"dir":"up"},
    {"id":"01 muscle cell differentiation","t":1,"v":1.67,"dir":"up"},
    {"id":"02 regulation of lipid transport","t":1,"v":-2.48,"dir":"down"},
    {"id":"03 single organismal cell-cell adhesion","t":1,"v":-2.0,"dir":"down"},
    {"id":"04 negative regulation of coagulation","t":2,"tl":"Tumor 2","v":1.6,"dir":"up"},
    {"id":"05 plasma membrane organization","t":2,"v":1.5,"dir":"up"},
    {"id":"06 lipid transport","t":2,"v":-2.67,"dir":"down"},
    {"id":"07 lipid localization","t":2,"v":-2.67,"dir":"down"},
    {"id":"08 membrane raft organization","t":3,"tl":"Tumor 3","v":1.86,"dir":"up"},
    {"id":"09 protein localization to membrane","t":3,"v":1.67,"dir":"up"},
    {"id":"10 tissue migration","t":3,"v":-1.6,"dir":"down"},
    {"id":"11 n/a","t":3},
    {"id":"12 cell adhesion","t":4,"tl":"Tumor 4","v":3.95,"dir":"up"},
    {"id":"13 biological adhesion","t":4,"v":3.95,"dir":"up"},
    {"id":"14 regulation of lipid metabolic process","t":4,"v":-2.24,"dir":"down"},
    {"id":"15 hormone secretion","t":4,"v":-2.19,"dir":"down"},
    {"id":"16 n/a","t":5,"tl":"Tumor 5"},
    {"id":"17 n/a","t":5},
    {"id":"18 growth","t":5,"v":-1.88,"dir":"down"},
    {"id":"19 positive regulation of MAPK cascade","t":5,"v":-1.6,"dir":"down"},
    {"id":"20 membrane raft organization","t":6,"tl":"Tumor 6","v":2.33,"dir":"up"},
    {"id":"21 plasma membrane organization","t":6,"v":2.17,"dir":"up"},
    {"id":"22 regulation of lipid metabolic process","t":6,"v":-2.19,"dir":"down"},
    {"id":"23 cellular response to oxygen-containing compound","t":6,"v":-2.02,"dir":"down"},
    {"id":"24 protein heterooligomerization","t":7,"tl":"Tumor 7","v":2.45,"dir":"up"},
    {"id":"25 protein oligomerization","t":7,"v":1.57,"dir":"up"},
    {"id":"26 regulation of protein phosphorylation","t":7,"v":-2.55,"dir":"down"},
    {"id":"27 leukocyte differentiation","t":7,"v":-2.31,"dir":"down"},
    {"id":"28 phosphorylation","t":8,"tl":"Tumor 8","v":2.76,"dir":"up"},
    {"id":"29 cellular response to stress","t":8,"v":2.26,"dir":"up"},
    {"id":"30 cell-cell adhesion","t":8,"v":-2.43,"dir":"down"},
    {"id":"31 regulation of establishment of protein localization","t":8,"v":-2.43,"dir":"down"},
    {"id":"32 ribonucleoside diphosphate metabolic process","t":9,"tl":"Tumor 9","v":2.17,"dir":"up"},
    {"id":"33 purine nucleoside diphosphate metabolic process","t":9,"v":2.17,"dir":"up"},
    {"id":"34 regulation of transport","t":9,"v":-1.6,"dir":"down"},
    {"id":"35 n/a","t":9}
  ]
},
"align": "none",
"spacing": 18,
"resolve": {"scale": {"color": "independent", "fill": "independent"}, "legend": {"color": "independent", "fill": "independent"}},
"vconcat": [
  {
    "title": {"text": "A", "anchor": "start", "frame": "bounds", "fontSize": 17, "fontWeight": "bold", "offset": -18, "dx": -21},
    "align": "none",
    "spacing": 40,
    "resolve": {"scale": {"color": "independent", "fill": "independent"}, "legend": {"color": "independent", "fill": "independent"}},
    "hconcat": [
      {
        "width": 170, "height": 180,
        "title": {"text": "HCC827", "fontSize": 19, "fontWeight": "bold", "anchor": "middle", "dx": 101, "offset": 0},
        "resolve": {"scale": {"x": "independent", "y": "independent", "color": "independent"}},
        "layer": [
          {
            "data": {"name": "hmA"},
            "transform": [{"fold": ["Tumor 1","Tumor 4","Tumor 2","Tumor 3","Tumor 5"], "as": ["tumor","value"]}],
            "mark": {"type": "rect"},
            "encoding": {
              "x": {"field": "tumor", "type": "nominal", "sort": ["Tumor 1","Tumor 4","Tumor 2","Tumor 3","Tumor 5"], "scale": {"paddingInner": 0, "paddingOuter": 0}, "axis": {"title": null, "labelAngle": -60, "ticks": false, "domain": false, "labelFontSize": 11.5, "labelPadding": 5}},
              "y": {"field": "r", "type": "ordinal", "scale": {"domain": [-2,-1,0,1,2,3,4,5,6,7,8,9,10,11,12,13,14,15,16,17,18,19,20,21,22,23,24,25,26,27,28,29,30,31,32,33], "paddingInner": 0, "paddingOuter": 0}, "axis": null},
              "color": {"field": "value", "type": "quantitative", "scale": {"domain": [-6, 0, 6], "range": ["#3a78c3", "#ffffff", "#e31e24"], "interpolate": "rgb"}, "legend": null}
            }
          },
          {
            "data": {"values": [{}]},
            "mark": {"type": "rect", "filled": false, "stroke": "#9a9a9a", "strokeWidth": 1.5},
            "encoding": {
              "x": {"datum": 0, "type": "quantitative", "scale": {"domain": [0, 1], "nice": false, "zero": false}, "axis": null},
              "x2": {"datum": 1},
              "y": {"datum": 0, "type": "quantitative", "scale": {"domain": [-2, 34], "reverse": true, "nice": false, "zero": false}, "axis": null},
              "y2": {"datum": 34}
            }
          },
          {
            "data": {"name": "dendA"},
            "mark": {"type": "rule", "color": "#1a1a1a", "strokeWidth": 1.2},
            "encoding": {
              "x": {"field": "x", "type": "quantitative", "scale": {"domain": [0, 5], "nice": false, "zero": false}, "axis": null},
              "x2": {"field": "xe"},
              "y": {"field": "h", "type": "quantitative", "scale": {"domain": [-5.667, 0.333], "nice": false, "zero": false}, "axis": null},
              "y2": {"field": "he"}
            }
          },
          {
            "data": {"name": "brA"},
            "transform": [{"filter": "datum.k == 'v'"}],
            "mark": {"type": "rule", "color": "#999", "strokeWidth": 1, "xOffset": -13},
            "encoding": {
              "x": {"datum": 0, "type": "quantitative", "scale": {"domain": [0, 1], "nice": false, "zero": false}, "axis": null},
              "y": {"field": "y1", "type": "quantitative", "scale": {"domain": [-2, 34], "reverse": true, "nice": false, "zero": false}, "axis": null},
              "y2": {"field": "y2"}
            }
          },
          {
            "data": {"name": "brA"},
            "transform": [{"filter": "datum.k == 'h'"}],
            "mark": {"type": "rule", "color": "#666", "strokeWidth": 1, "xOffset": -13, "x2Offset": -3},
            "encoding": {
              "x": {"datum": 0, "type": "quantitative", "scale": {"domain": [0, 1], "nice": false, "zero": false}, "axis": null},
              "x2": {"datum": 0},
              "y": {"field": "y1", "type": "quantitative", "scale": {"domain": [-2, 34], "reverse": true, "nice": false, "zero": false}, "axis": null}
            }
          },
          {
            "data": {"name": "brA"},
            "transform": [{"filter": "datum.k == 'b'"}],
            "mark": {"type": "rule", "color": "#111", "strokeWidth": 3, "xOffset": -3},
            "encoding": {
              "x": {"datum": 0, "type": "quantitative", "scale": {"domain": [0, 1], "nice": false, "zero": false}, "axis": null},
              "y": {"field": "y1", "type": "quantitative", "scale": {"domain": [-2, 34], "reverse": true, "nice": false, "zero": false}, "axis": null},
              "y2": {"field": "y2"}
            }
          },
          {
            "data": {"name": "lblA"},
            "mark": {"type": "text", "align": "right", "baseline": "middle", "dx": -17, "fontWeight": "bold", "fontSize": 8.4},
            "encoding": {
              "x": {"datum": 0, "type": "quantitative", "scale": {"domain": [0, 1], "nice": false, "zero": false}, "axis": null},
              "y": {"field": "pos", "type": "quantitative", "scale": {"domain": [-2, 34], "reverse": true, "nice": false, "zero": false}, "axis": null},
              "text": {"field": "g"},
              "color": {"field": "c", "type": "nominal", "scale": {"domain": ["g","m","p","o"], "range": ["#1a9f50","#e5198a","#6e3b97","#f0662c"]}, "legend": null}
            }
          }
        ]
      },
      {
        "width": 167, "height": 157,
        "view": {"stroke": "#666", "strokeWidth": 1},
        "resolve": {"scale": {"color": "independent", "fill": "independent"}, "axis": {"x": "independent"}},
        "layer": [
          {
            "data": {"name": "goA"},
            "transform": [{"filter": "datum.t % 2 == 1"}],
            "mark": {"type": "rect", "color": "#e6e6e6"},
            "encoding": {
              "x": {"datum": -3, "type": "quantitative", "axis": {"orient": "top", "title": "GO BP enrichment", "labels": false, "ticks": false, "domain": false, "grid": false, "titleFontSize": 12, "titleFontWeight": "normal", "titlePadding": 4}},
              "x2": {"datum": 2},
              "y": {"field": "id", "type": "ordinal"}
            }
          },
          {
            "data": {"name": "goA"},
            "transform": [{"filter": "isValid(datum.v)"}],
            "mark": {"type": "bar", "height": {"band": 0.7}, "opacity": 0.7},
            "encoding": {
              "x": {"field": "v", "type": "quantitative", "scale": {"domain": [-3, 2], "nice": false}, "axis": {"values": [-3,-2,-1,0,1,2], "format": "d", "title": "Log10(P-value)     -Log10(P-value)", "titleFontSize": 11, "titleFontWeight": "normal", "titlePadding": 3, "labelFontSize": 11, "tickSize": 4, "tickColor": "#444", "domain": false, "grid": false}},
              "x2": {"datum": 0},
              "y": {"field": "id", "type": "ordinal", "scale": {"paddingInner": 0, "paddingOuter": 0}, "axis": {"title": null, "labelExpr": "slice(datum.value, 3)", "labelFontSize": 7.7, "tickSize": 3, "tickColor": "#444", "labelPadding": 2, "domain": false, "labelLimit": 300, "labelColor": {"condition": {"test": "datum.value == '12 response to abiotic stimulus'", "value": "#1aa152"}, "value": "#333"}, "labelFontWeight": {"condition": {"test": "datum.value == '12 response to abiotic stimulus'", "value": "bold"}, "value": "normal"}}},
              "color": {"field": "dir", "type": "nominal", "scale": {"domain": ["down","up"], "range": ["#6fa8dc","#d65f70"]}, "legend": {"orient": "none", "legendX": -153, "legendY": 191, "direction": "horizontal", "gridAlign": "none", "title": null, "symbolType": "square", "symbolSize": 90, "labelFontSize": 10, "columnPadding": 12, "labelLimit": 300, "labelExpr": "datum.value == 'down' ? 'Among downregulated p-peptides' : 'Among upregulated p-peptides'", "encode": {"labels": {"update": {"fill": {"signal": "datum.value == 'down' ? '#3d86c6' : '#d8445e'"}}}}}}
            }
          },
          {
            "data": {"values": [{}]},
            "mark": {"type": "rule", "color": "#555", "strokeWidth": 1.5},
            "encoding": {"x": {"datum": 0, "type": "quantitative", "axis": null}}
          },
          {
            "data": {"name": "goA"},
            "transform": [{"filter": "datum.tl"}],
            "mark": {"type": "text", "align": "left", "baseline": "middle", "dx": 4, "dy": 2, "fontSize": 11, "color": "#222"},
            "encoding": {
              "x": {"datum": -3, "type": "quantitative", "axis": null},
              "y": {"field": "id", "type": "ordinal"},
              "text": {"field": "tl"}
            }
          },
          {
            "data": {"values": [{"drug": "Osimertinib"}]},
            "mark": {"type": "point", "filled": true, "opacity": 0},
            "encoding": {"fill": {"field": "drug", "type": "nominal", "scale": {"range": ["#a8dba0"]}, "legend": {"orient": "none", "legendX": -183, "legendY": -41, "title": null, "symbolType": "circle", "symbolSize": 230, "labelFontSize": 15, "labelFontWeight": "bold", "labelColor": "#111", "labelOffset": 6, "symbolStrokeWidth": 0, "encode": {"symbols": {"update": {"opacity": {"value": 1}, "fillOpacity": {"value": 1}}}}}}}
          }
        ]
      }
    ]
  },
  {
    "title": {"text": "B", "anchor": "start", "frame": "bounds", "fontSize": 17, "fontWeight": "bold", "offset": -18, "dx": -5},
    "align": "none",
    "spacing": -19,
    "resolve": {"scale": {"color": "independent", "fill": "independent"}, "legend": {"color": "independent", "fill": "independent"}},
    "hconcat": [
      {
        "width": 181, "height": 205,
        "title": {"text": "HCC827-ER1", "fontSize": 19, "fontWeight": "bold", "anchor": "middle", "dx": 101, "offset": 8},
        "resolve": {"scale": {"x": "independent", "y": "independent", "color": "independent"}},
        "layer": [
          {
            "data": {"name": "hmB"},
            "transform": [{"fold": ["Tumor 7","Tumor 4","Tumor 6","Tumor 5","Tumor 2","Tumor 1","Tumor 9","Tumor 8","Tumor 3"], "as": ["tumor","value"]}],
            "mark": {"type": "rect"},
            "encoding": {
              "x": {"field": "tumor", "type": "nominal", "sort": ["Tumor 7","Tumor 4","Tumor 6","Tumor 5","Tumor 2","Tumor 1","Tumor 9","Tumor 8","Tumor 3"], "scale": {"paddingInner": 0, "paddingOuter": 0}, "axis": {"title": null, "labelAngle": -60, "ticks": false, "domain": false, "labelFontSize": 11.5, "labelPadding": 5}},
              "y": {"field": "r", "type": "ordinal", "scale": {"domain": [-7,-6,-5,-4,-3,-2,-1,0,1,2,3,4,5,6,7,8,9,10,11,12,13,14,15,16,17,18,19,20,21,22,23,24,25,26,27,28,29,30,31,32,33], "paddingInner": 0, "paddingOuter": 0}, "axis": null},
              "color": {"field": "value", "type": "quantitative", "scale": {"domain": [-6, 0, 6], "range": ["#3a78c3", "#ffffff", "#e31e24"], "interpolate": "rgb"}, "legend": null}
            }
          },
          {
            "data": {"values": [{}]},
            "mark": {"type": "rect", "filled": false, "stroke": "#9a9a9a", "strokeWidth": 1.5},
            "encoding": {
              "x": {"datum": 0, "type": "quantitative", "scale": {"domain": [0, 1], "nice": false, "zero": false}, "axis": null},
              "x2": {"datum": 1},
              "y": {"datum": 0, "type": "quantitative", "scale": {"domain": [-7, 34], "reverse": true, "nice": false, "zero": false}, "axis": null},
              "y2": {"datum": 34}
            }
          },
          {
            "data": {"name": "dendB"},
            "mark": {"type": "rule", "color": "#1a1a1a", "strokeWidth": 1.2},
            "encoding": {
              "x": {"field": "x", "type": "quantitative", "scale": {"domain": [0, 9], "nice": false, "zero": false}, "axis": null},
              "x2": {"field": "xe"},
              "y": {"field": "h", "type": "quantitative", "scale": {"domain": [-5.862, 1.207], "nice": false, "zero": false}, "axis": null},
              "y2": {"field": "he"}
            }
          },
          {
            "data": {"name": "brB"},
            "transform": [{"filter": "datum.s == 'L' && datum.k == 'v'"}],
            "mark": {"type": "rule", "color": "#999", "strokeWidth": 1, "xOffset": -12},
            "encoding": {
              "x": {"datum": 0, "type": "quantitative", "scale": {"domain": [0, 1], "nice": false, "zero": false}, "axis": null},
              "y": {"field": "y1", "type": "quantitative", "scale": {"domain": [-7, 34], "reverse": true, "nice": false, "zero": false}, "axis": null},
              "y2": {"field": "y2"}
            }
          },
          {
            "data": {"name": "brB"},
            "transform": [{"filter": "datum.s == 'L' && datum.k == 'h'"}],
            "mark": {"type": "rule", "color": "#666", "strokeWidth": 1, "xOffset": -12, "x2Offset": -4},
            "encoding": {
              "x": {"datum": 0, "type": "quantitative", "scale": {"domain": [0, 1], "nice": false, "zero": false}, "axis": null},
              "x2": {"datum": 0},
              "y": {"field": "y1", "type": "quantitative", "scale": {"domain": [-7, 34], "reverse": true, "nice": false, "zero": false}, "axis": null}
            }
          },
          {
            "data": {"name": "brB"},
            "transform": [{"filter": "datum.s == 'L' && datum.k == 'b'"}],
            "mark": {"type": "rule", "color": "#111", "strokeWidth": 3, "xOffset": -4},
            "encoding": {
              "x": {"datum": 0, "type": "quantitative", "scale": {"domain": [0, 1], "nice": false, "zero": false}, "axis": null},
              "y": {"field": "y1", "type": "quantitative", "scale": {"domain": [-7, 34], "reverse": true, "nice": false, "zero": false}, "axis": null},
              "y2": {"field": "y2"}
            }
          },
          {
            "data": {"name": "brB"},
            "transform": [{"filter": "datum.s == 'R' && datum.k == 'v'"}],
            "mark": {"type": "rule", "color": "#999", "strokeWidth": 1, "xOffset": 13},
            "encoding": {
              "x": {"datum": 1, "type": "quantitative", "scale": {"domain": [0, 1], "nice": false, "zero": false}, "axis": null},
              "y": {"field": "y1", "type": "quantitative", "scale": {"domain": [-7, 34], "reverse": true, "nice": false, "zero": false}, "axis": null},
              "y2": {"field": "y2"}
            }
          },
          {
            "data": {"name": "brB"},
            "transform": [{"filter": "datum.s == 'R' && datum.k == 'h'"}],
            "mark": {"type": "rule", "color": "#666", "strokeWidth": 1, "xOffset": 3, "x2Offset": 13},
            "encoding": {
              "x": {"datum": 1, "type": "quantitative", "scale": {"domain": [0, 1], "nice": false, "zero": false}, "axis": null},
              "x2": {"datum": 1},
              "y": {"field": "y1", "type": "quantitative", "scale": {"domain": [-7, 34], "reverse": true, "nice": false, "zero": false}, "axis": null}
            }
          },
          {
            "data": {"name": "brB"},
            "transform": [{"filter": "datum.s == 'R' && datum.k == 'b'"}],
            "mark": {"type": "rule", "color": "#111", "strokeWidth": 3, "xOffset": 3},
            "encoding": {
              "x": {"datum": 1, "type": "quantitative", "scale": {"domain": [0, 1], "nice": false, "zero": false}, "axis": null},
              "y": {"field": "y1", "type": "quantitative", "scale": {"domain": [-7, 34], "reverse": true, "nice": false, "zero": false}, "axis": null},
              "y2": {"field": "y2"}
            }
          },
          {
            "data": {"name": "lblBL"},
            "transform": [{"filter": "datum.tri"}, {"calculate": "'▲ ' + datum.g", "as": "tt"}],
            "mark": {"type": "text", "align": "right", "baseline": "middle", "dx": -16, "fontWeight": "bold", "fontSize": 8.4},
            "encoding": {
              "x": {"datum": 0, "type": "quantitative", "scale": {"domain": [0, 1], "nice": false, "zero": false}, "axis": null},
              "y": {"field": "pos", "type": "quantitative", "scale": {"domain": [-7, 34], "reverse": true, "nice": false, "zero": false}, "axis": null},
              "text": {"field": "tt"},
              "color": {"field": "tri", "type": "nominal", "scale": {"domain": ["p","m"], "range": ["#5c2b8c","#e5198a"]}, "legend": null}
            }
          },
          {
            "data": {"name": "lblBL"},
            "mark": {"type": "text", "align": "right", "baseline": "middle", "dx": -16, "fontWeight": "bold", "fontSize": 8.4},
            "encoding": {
              "x": {"datum": 0, "type": "quantitative", "scale": {"domain": [0, 1], "nice": false, "zero": false}, "axis": null},
              "y": {"field": "pos", "type": "quantitative", "scale": {"domain": [-7, 34], "reverse": true, "nice": false, "zero": false}, "axis": null},
              "text": {"field": "g"},
              "color": {"field": "c", "type": "nominal", "scale": {"domain": ["g","m","p","o"], "range": ["#1a9f50","#e5198a","#6e3b97","#f0662c"]}, "legend": null}
            }
          },
          {
            "data": {"name": "lblBR"},
            "mark": {"type": "text", "align": "left", "baseline": "middle", "dx": 16, "fontWeight": "bold", "fontSize": 8.4},
            "encoding": {
              "x": {"datum": 1, "type": "quantitative", "scale": {"domain": [0, 1], "nice": false, "zero": false}, "axis": null},
              "y": {"field": "pos", "type": "quantitative", "scale": {"domain": [-7, 34], "reverse": true, "nice": false, "zero": false}, "axis": null},
              "text": {"field": "g"},
              "color": {"field": "c", "type": "nominal", "scale": {"domain": ["g","m","p","o"], "range": ["#1a9f50","#e5198a","#6e3b97","#f0662c"]}, "legend": null}
            }
          }
        ]
      },
      {
        "width": 140, "height": 261,
        "view": {"stroke": "#666", "strokeWidth": 1},
        "resolve": {"scale": {"color": "independent", "fill": "independent"}, "axis": {"x": "independent"}},
        "layer": [
          {
            "data": {"name": "goB"},
            "transform": [{"filter": "datum.t % 2 == 1"}],
            "mark": {"type": "rect", "color": "#e6e6e6"},
            "encoding": {
              "x": {"datum": -6, "type": "quantitative", "axis": {"orient": "top", "title": "GO BP enrichment", "labels": false, "ticks": false, "domain": false, "grid": false, "titleFontSize": 12, "titleFontWeight": "normal", "titlePadding": 4}},
              "x2": {"datum": 4},
              "y": {"field": "id", "type": "ordinal"}
            }
          },
          {
            "data": {"name": "goB"},
            "transform": [{"filter": "isValid(datum.v)"}],
            "mark": {"type": "bar", "height": {"band": 0.7}, "opacity": 0.7},
            "encoding": {
              "x": {"field": "v", "type": "quantitative", "scale": {"domain": [-6, 4], "nice": false}, "axis": {"values": [-6,-4,-2,0,2,4], "format": "d", "title": "Log10(P-value)   -Log10(P-value)", "titleFontSize": 11, "titleFontWeight": "normal", "titlePadding": 6, "labelFontSize": 11, "tickSize": 4, "tickColor": "#444", "domain": false, "grid": false}},
              "x2": {"datum": 0},
              "y": {"field": "id", "type": "ordinal", "scale": {"paddingInner": 0, "paddingOuter": 0}, "axis": {"title": null, "labelExpr": "slice(datum.value, 3)", "labelFontSize": 7.7, "tickSize": 3, "tickColor": "#444", "labelPadding": 2, "domain": false, "labelLimit": 300, "labelColor": {"condition": [{"test": "datum.value == '12 positive regulation of nucleic acid-templated transcription'", "value": "#1aa152"}, {"test": "datum.value == '24 secretion by cell'", "value": "#e5198a"}, {"test": "datum.value == '33 cell surface receptor signaling pathway'", "value": "#7b3f9e"}], "value": "#333"}, "labelFontWeight": {"condition": {"test": "datum.value == '12 positive regulation of nucleic acid-templated transcription'", "value": "bold"}, "value": "normal"}}},
              "color": {"field": "dir", "type": "nominal", "scale": {"domain": ["down","up"], "range": ["#6fa8dc","#d65f70"]}, "legend": {"orient": "none", "legendX": -185, "legendY": 287, "padding": 10, "direction": "horizontal", "gridAlign": "none", "title": null, "symbolType": "square", "symbolSize": 90, "labelFontSize": 10, "columnPadding": 12, "labelLimit": 300, "labelExpr": "datum.value == 'down' ? 'Among downregulated p-peptides' : 'Among upregulated p-peptides'", "encode": {"labels": {"update": {"fill": {"signal": "datum.value == 'down' ? '#3d86c6' : '#d8445e'"}}}}}}
            }
          },
          {
            "data": {"values": [{}]},
            "mark": {"type": "rule", "color": "#555", "strokeWidth": 1.5},
            "encoding": {"x": {"datum": 0, "type": "quantitative", "axis": null}}
          },
          {
            "data": {"name": "goB"},
            "transform": [{"filter": "datum.tl"}],
            "mark": {"type": "text", "align": "left", "baseline": "middle", "dx": 4, "dy": 2, "fontSize": 11, "color": "#222"},
            "encoding": {
              "x": {"datum": -6, "type": "quantitative", "axis": null},
              "y": {"field": "id", "type": "ordinal"},
              "text": {"field": "tl"}
            }
          },
          {
            "data": {"values": [{"drug": "JNJ-61186372"}]},
            "mark": {"type": "point", "filled": true, "opacity": 0},
            "encoding": {"fill": {"field": "drug", "type": "nominal", "scale": {"range": ["#f4998c"]}, "legend": {"orient": "none", "legendX": -222, "legendY": -29, "title": null, "symbolType": "circle", "symbolSize": 230, "labelFontSize": 15, "labelFontWeight": "bold", "labelColor": "#111", "labelOffset": 10, "symbolStrokeWidth": 0, "encode": {"symbols": {"update": {"opacity": {"value": 1}, "fillOpacity": {"value": 1}}}}}}}
          }
        ]
      }
    ]
  },
  {
    "title": {"text": "C", "anchor": "start", "frame": "bounds", "fontSize": 17, "fontWeight": "bold", "offset": -16, "dx": -4},
    "align": "none",
    "spacing": 8,
    "resolve": {"scale": {"color": "independent", "fill": "independent"}, "legend": {"color": "independent", "fill": "independent"}},
    "hconcat": [
      {
        "width": 181, "height": 215,
        "title": {"text": "HCC827-ER1", "fontSize": 19, "fontWeight": "bold", "anchor": "middle", "dx": 90, "offset": 0},
        "resolve": {"scale": {"x": "independent", "y": "independent", "color": "independent"}},
        "layer": [
          {
            "data": {"name": "hmC"},
            "transform": [{"fold": ["Tumor 9","Tumor 2","Tumor 8","Tumor 4","Tumor 3","Tumor 7","Tumor 5","Tumor 6","Tumor 1"], "as": ["tumor","value"]}],
            "mark": {"type": "rect"},
            "encoding": {
              "x": {"field": "tumor", "type": "nominal", "sort": ["Tumor 9","Tumor 2","Tumor 8","Tumor 4","Tumor 3","Tumor 7","Tumor 5","Tumor 6","Tumor 1"], "scale": {"paddingInner": 0, "paddingOuter": 0}, "axis": {"title": null, "labelAngle": -60, "ticks": false, "domain": false, "labelFontSize": 11.5, "labelPadding": 5}},
              "y": {"field": "r", "type": "ordinal", "scale": {"domain": [-9,-8,-7,-6,-5,-4,-3,-2,-1,0,1,2,3,4,5,6,7,8,9,10,11,12,13,14,15,16,17,18,19,20,21,22,23,24,25,26,27,28,29,30,31,32,33], "paddingInner": 0, "paddingOuter": 0}, "axis": null},
              "color": {"field": "value", "type": "quantitative", "scale": {"domain": [-6, 0, 6], "range": ["#3a78c3", "#ffffff", "#e31e24"], "interpolate": "rgb"}, "legend": {"orient": "none", "legendX": 62, "legendY": 283, "direction": "horizontal", "gradientLength": 101, "gradientThickness": 15, "title": "Log2 normalized TMT value", "titleOrient": "bottom", "titleFontSize": 10, "titleFontWeight": "normal", "titleAnchor": "middle", "titlePadding": 3, "values": [-6,-4,-2,0,2,4,6], "format": "d", "labelFontSize": 9, "gradientStrokeColor": "#444", "gradientStrokeWidth": 0.6}}
            }
          },
          {
            "data": {"values": [{}]},
            "mark": {"type": "rect", "filled": false, "stroke": "#9a9a9a", "strokeWidth": 1.5},
            "encoding": {
              "x": {"datum": 0, "type": "quantitative", "scale": {"domain": [0, 1], "nice": false, "zero": false}, "axis": null},
              "x2": {"datum": 1},
              "y": {"datum": 0, "type": "quantitative", "scale": {"domain": [-9, 34], "reverse": true, "nice": false, "zero": false}, "axis": null},
              "y2": {"datum": 34}
            }
          },
          {
            "data": {"name": "dendC"},
            "mark": {"type": "rule", "color": "#1a1a1a", "strokeWidth": 1.2},
            "encoding": {
              "x": {"field": "x", "type": "quantitative", "scale": {"domain": [0, 9], "nice": false, "zero": false}, "axis": null},
              "x2": {"field": "xe"},
              "y": {"field": "h", "type": "quantitative", "scale": {"domain": [-5.862, 1.552], "nice": false, "zero": false}, "axis": null},
              "y2": {"field": "he"}
            }
          },
          {
            "data": {"name": "brC"},
            "transform": [{"filter": "datum.s == 'L' && datum.k == 'v'"}],
            "mark": {"type": "rule", "color": "#999", "strokeWidth": 1, "xOffset": -14},
            "encoding": {
              "x": {"datum": 0, "type": "quantitative", "scale": {"domain": [0, 1], "nice": false, "zero": false}, "axis": null},
              "y": {"field": "y1", "type": "quantitative", "scale": {"domain": [-9, 34], "reverse": true, "nice": false, "zero": false}, "axis": null},
              "y2": {"field": "y2"}
            }
          },
          {
            "data": {"name": "brC"},
            "transform": [{"filter": "datum.s == 'L' && datum.k == 'h'"}],
            "mark": {"type": "rule", "color": "#666", "strokeWidth": 1, "xOffset": -14, "x2Offset": -3},
            "encoding": {
              "x": {"datum": 0, "type": "quantitative", "scale": {"domain": [0, 1], "nice": false, "zero": false}, "axis": null},
              "x2": {"datum": 0},
              "y": {"field": "y1", "type": "quantitative", "scale": {"domain": [-9, 34], "reverse": true, "nice": false, "zero": false}, "axis": null}
            }
          },
          {
            "data": {"name": "brC"},
            "transform": [{"filter": "datum.s == 'L' && datum.k == 'b'"}],
            "mark": {"type": "rule", "color": "#111", "strokeWidth": 3, "xOffset": -3},
            "encoding": {
              "x": {"datum": 0, "type": "quantitative", "scale": {"domain": [0, 1], "nice": false, "zero": false}, "axis": null},
              "y": {"field": "y1", "type": "quantitative", "scale": {"domain": [-9, 34], "reverse": true, "nice": false, "zero": false}, "axis": null},
              "y2": {"field": "y2"}
            }
          },
          {
            "data": {"name": "brC"},
            "transform": [{"filter": "datum.s == 'R' && datum.k == 'v'"}],
            "mark": {"type": "rule", "color": "#999", "strokeWidth": 1, "xOffset": 12},
            "encoding": {
              "x": {"datum": 1, "type": "quantitative", "scale": {"domain": [0, 1], "nice": false, "zero": false}, "axis": null},
              "y": {"field": "y1", "type": "quantitative", "scale": {"domain": [-9, 34], "reverse": true, "nice": false, "zero": false}, "axis": null},
              "y2": {"field": "y2"}
            }
          },
          {
            "data": {"name": "brC"},
            "transform": [{"filter": "datum.s == 'R' && datum.k == 'h'"}],
            "mark": {"type": "rule", "color": "#666", "strokeWidth": 1, "xOffset": 3, "x2Offset": 12},
            "encoding": {
              "x": {"datum": 1, "type": "quantitative", "scale": {"domain": [0, 1], "nice": false, "zero": false}, "axis": null},
              "x2": {"datum": 1},
              "y": {"field": "y1", "type": "quantitative", "scale": {"domain": [-9, 34], "reverse": true, "nice": false, "zero": false}, "axis": null}
            }
          },
          {
            "data": {"name": "brC"},
            "transform": [{"filter": "datum.s == 'R' && datum.k == 'b'"}],
            "mark": {"type": "rule", "color": "#111", "strokeWidth": 3, "xOffset": 3},
            "encoding": {
              "x": {"datum": 1, "type": "quantitative", "scale": {"domain": [0, 1], "nice": false, "zero": false}, "axis": null},
              "y": {"field": "y1", "type": "quantitative", "scale": {"domain": [-9, 34], "reverse": true, "nice": false, "zero": false}, "axis": null},
              "y2": {"field": "y2"}
            }
          },
          {
            "data": {"name": "lblCL"},
            "transform": [{"filter": "datum.tri"}, {"calculate": "'▲ ' + datum.g", "as": "tt"}],
            "mark": {"type": "text", "align": "right", "baseline": "middle", "dx": -17, "fontWeight": "bold", "fontSize": 8.4},
            "encoding": {
              "x": {"datum": 0, "type": "quantitative", "scale": {"domain": [0, 1], "nice": false, "zero": false}, "axis": null},
              "y": {"field": "pos", "type": "quantitative", "scale": {"domain": [-9, 34], "reverse": true, "nice": false, "zero": false}, "axis": null},
              "text": {"field": "tt"},
              "color": {"field": "tri", "type": "nominal", "scale": {"domain": ["p","m"], "range": ["#5c2b8c","#e5198a"]}, "legend": null}
            }
          },
          {
            "data": {"name": "lblCL"},
            "mark": {"type": "text", "align": "right", "baseline": "middle", "dx": -17, "fontWeight": "bold", "fontSize": 8.4},
            "encoding": {
              "x": {"datum": 0, "type": "quantitative", "scale": {"domain": [0, 1], "nice": false, "zero": false}, "axis": null},
              "y": {"field": "pos", "type": "quantitative", "scale": {"domain": [-9, 34], "reverse": true, "nice": false, "zero": false}, "axis": null},
              "text": {"field": "g"},
              "color": {"field": "c", "type": "nominal", "scale": {"domain": ["g","m","p","o"], "range": ["#1a9f50","#e5198a","#6e3b97","#f0662c"]}, "legend": null}
            }
          },
          {
            "data": {"name": "lblCR"},
            "mark": {"type": "text", "align": "left", "baseline": "middle", "dx": 15, "fontWeight": "bold", "fontSize": 8.4},
            "encoding": {
              "x": {"datum": 1, "type": "quantitative", "scale": {"domain": [0, 1], "nice": false, "zero": false}, "axis": null},
              "y": {"field": "pos", "type": "quantitative", "scale": {"domain": [-9, 34], "reverse": true, "nice": false, "zero": false}, "axis": null},
              "text": {"field": "g"},
              "color": {"field": "c", "type": "nominal", "scale": {"domain": ["g","m","p","o"], "range": ["#1a9f50","#e5198a","#6e3b97","#f0662c"]}, "legend": null}
            }
          }
        ]
      },
      {
        "width": 138, "height": 284,
        "view": {"stroke": "#666", "strokeWidth": 1},
        "resolve": {"scale": {"color": "independent", "fill": "independent"}, "axis": {"x": "independent"}},
        "layer": [
          {
            "data": {"name": "goC"},
            "transform": [{"filter": "datum.t % 2 == 1"}],
            "mark": {"type": "rect", "color": "#e6e6e6"},
            "encoding": {
              "x": {"datum": -4, "type": "quantitative", "axis": {"orient": "top", "title": "GO BP enrichment", "labels": false, "ticks": false, "domain": false, "grid": false, "titleFontSize": 12, "titleFontWeight": "normal", "titlePadding": 4}},
              "x2": {"datum": 6},
              "y": {"field": "id", "type": "ordinal"}
            }
          },
          {
            "data": {"name": "goC"},
            "transform": [{"filter": "isValid(datum.v)"}],
            "mark": {"type": "bar", "height": {"band": 0.7}, "opacity": 0.7},
            "encoding": {
              "x": {"field": "v", "type": "quantitative", "scale": {"domain": [-4, 6], "nice": false}, "axis": {"values": [-4,-2,0,2,4,6], "format": "d", "title": "Log10(P-value)   -Log10(P-value)", "titleFontSize": 11, "titleFontWeight": "normal", "titlePadding": 3, "labelFontSize": 11, "tickSize": 4, "tickColor": "#444", "domain": false, "grid": false}},
              "x2": {"datum": 0},
              "y": {"field": "id", "type": "ordinal", "scale": {"paddingInner": 0, "paddingOuter": 0}, "axis": {"title": null, "labelExpr": "slice(datum.value, 3)", "labelFontSize": 8, "tickSize": 3, "tickColor": "#444", "labelPadding": 2, "domain": false, "labelLimit": 300, "labelColor": {"condition": [{"test": "datum.value == '00 striated muscle cell differentiation'", "value": "#e5198a"}, {"test": "datum.value == '12 cell adhesion'", "value": "#f0662c"}, {"test": "datum.value == '20 membrane raft organization'", "value": "#1aa152"}, {"test": "datum.value == '28 phosphorylation'", "value": "#7b3f9e"}], "value": "#333"}, "labelFontWeight": {"condition": {"test": "indexof(['00 striated muscle cell differentiation','12 cell adhesion','20 membrane raft organization','28 phosphorylation'], datum.value) >= 0", "value": "bold"}, "value": "normal"}}},
              "color": {"field": "dir", "type": "nominal", "scale": {"domain": ["down","up"], "range": ["#6fa8dc","#d65f70"]}, "legend": {"orient": "none", "legendX": -174, "legendY": 326, "direction": "horizontal", "gridAlign": "none", "title": null, "symbolType": "square", "symbolSize": 90, "labelFontSize": 10, "columnPadding": 12, "labelLimit": 300, "labelExpr": "datum.value == 'down' ? 'Among downregulated p-peptides' : 'Among upregulated p-peptides'", "encode": {"labels": {"update": {"fill": {"signal": "datum.value == 'down' ? '#3d86c6' : '#d8445e'"}}}}}}
            }
          },
          {
            "data": {"values": [{}]},
            "mark": {"type": "rule", "color": "#555", "strokeWidth": 1.5},
            "encoding": {"x": {"datum": 0, "type": "quantitative", "axis": null}}
          },
          {
            "data": {"name": "goC"},
            "transform": [{"filter": "datum.tl"}],
            "mark": {"type": "text", "align": "left", "baseline": "middle", "dx": 4, "dy": 2, "fontSize": 11, "color": "#222"},
            "encoding": {
              "x": {"datum": -4, "type": "quantitative", "axis": null},
              "y": {"field": "id", "type": "ordinal"},
              "text": {"field": "tl"}
            }
          },
          {
            "data": {"values": [{"drug": "Osimertinib"}]},
            "mark": {"type": "point", "filled": true, "opacity": 0},
            "encoding": {"fill": {"field": "drug", "type": "nominal", "scale": {"range": ["#a8dba0"]}, "legend": {"orient": "none", "legendX": -215, "legendY": -26, "title": null, "symbolType": "circle", "symbolSize": 230, "labelFontSize": 15, "labelFontWeight": "bold", "labelColor": "#111", "labelOffset": 10, "symbolStrokeWidth": 0, "encode": {"symbols": {"update": {"opacity": {"value": 1}, "fillOpacity": {"value": 1}}}}}}}
          }
        ]
      }
    ]
  }
]
}
